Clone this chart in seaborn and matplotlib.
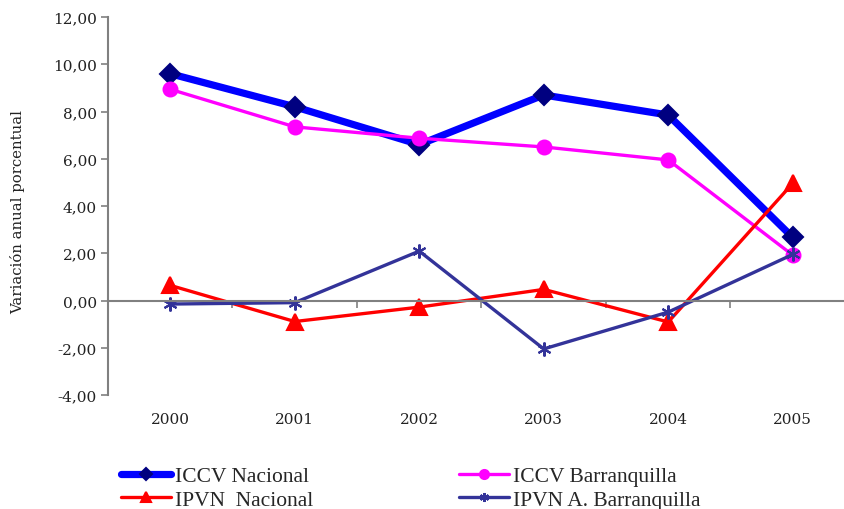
import matplotlib
matplotlib.use("Agg")
import matplotlib.pyplot as plt
import seaborn as sns
import pandas as pd
from matplotlib.ticker import FuncFormatter, FixedLocator

years = ["2000", "2001", "2002", "2003", "2004", "2005"]
iccv_nacional = [9.60, 8.20, 6.60, 8.70, 7.85, 2.67]
iccv_barranquilla = [8.94, 7.35, 6.87, 6.50, 5.95, 1.92]
ipvn_nacional = [0.64, -0.89, -0.28, 0.47, -0.91, 4.96]
ipvn_barranquilla = [-0.15, -0.09, 2.09, -2.05, -0.49, 1.95]

series_names = ["ICCV Nacional", "ICCV Barranquilla", "IPVN  Nacional", "IPVN A. Barranquilla"]
series_vals = [iccv_nacional, iccv_barranquilla, ipvn_nacional, ipvn_barranquilla]

styles = {
    "ICCV Nacional": dict(color="#0000FF", lw=5.2, marker="D", ms=10, mfc="#000080", mec="#000080"),
    "ICCV Barranquilla": dict(color="#FF00FF", lw=2.4, marker="o", ms=10, mfc="#FF00FF", mec="#FF00FF"),
    "IPVN  Nacional": dict(color="#FF0000", lw=2.4, marker="^", ms=11, mfc="#FF0000", mec="#FF0000"),
    "IPVN A. Barranquilla": dict(color="#333399", lw=2.4, marker=(6, 2, 0), ms=10, mfc="#333399", mec="#333399"),
}

sns.set_theme(style="white")
plt.rcParams["font.family"] = ["DejaVu Serif"]

fig = plt.figure(figsize=(8.45, 5.10), dpi=100)
ax = fig.add_axes([108 / 845, 1 - 396 / 510, (855 - 108) / 845, (396 - 18) / 510])

x_idx = list(range(len(years)))
handles = {}
for name, vals in zip(series_names, series_vals):
    st = styles[name]
    df = pd.DataFrame({"x": x_idx, "y": vals})
    sns.lineplot(data=df, x="x", y="y", ax=ax, color=st["color"], linewidth=st["lw"],
                 marker=st["marker"], markersize=st["ms"], markerfacecolor=st["mfc"],
                 markeredgecolor=st["mec"], markeredgewidth=1.5, legend=False)
    handles[name] = ax.lines[-1]

ax.set_xlim(-0.5, len(years) - 0.5)
ax.set_ylim(-4, 12)
ax.set_xlabel("")
ax.set_ylabel("Variación anual porcentual", fontsize=10.7, color="#222222")
ax.yaxis.set_label_coords(-0.111, 0.487)

grey = "#808080"
for s in ["top", "right"]:
    ax.spines[s].set_visible(False)
ax.spines["left"].set_color(grey)
ax.spines["left"].set_linewidth(1.5)
ax.spines["bottom"].set_position(("data", 0))
ax.spines["bottom"].set_color(grey)
ax.spines["bottom"].set_linewidth(1.5)

ax.set_yticks([-4, -2, 0, 2, 4, 6, 8, 10, 12])
ax.yaxis.set_major_formatter(FuncFormatter(lambda v, p: f"{v:.2f}".replace(".", ",")))
ax.tick_params(axis="y", direction="out", length=5, width=1.2, color=grey,
               labelsize=11, labelcolor="#222222", left=True, pad=3)

ax.xaxis.set_major_locator(FixedLocator([i - 0.5 for i in range(len(years) + 1)]))
ax.tick_params(axis="x", direction="out", length=5, width=1.2, color=grey,
               labelbottom=False, bottom=True)

sec = ax.secondary_xaxis("bottom")
sec.set_xticks(x_idx, labels=years)
sec.tick_params(length=0, labelsize=11, labelcolor="#222222", pad=12)
sec.spines["bottom"].set_visible(False)

# column-first fill -> row-major order like the reference
leg_order = ["ICCV Nacional", "IPVN  Nacional", "ICCV Barranquilla", "IPVN A. Barranquilla"]
leg = fig.legend([handles[n] for n in leg_order], leg_order, loc="upper left",
                 bbox_to_anchor=(121 / 845, 1 - 467 / 510),
                 ncol=2, frameon=False, handlelength=2.3, handletextpad=0.2,
                 columnspacing=6.8, labelspacing=0.18, borderpad=0, borderaxespad=0,
                 markerscale=0.65,
                 prop={"family": "Liberation Serif", "size": 15.5})

fig.savefig("out.png", dpi=100)
